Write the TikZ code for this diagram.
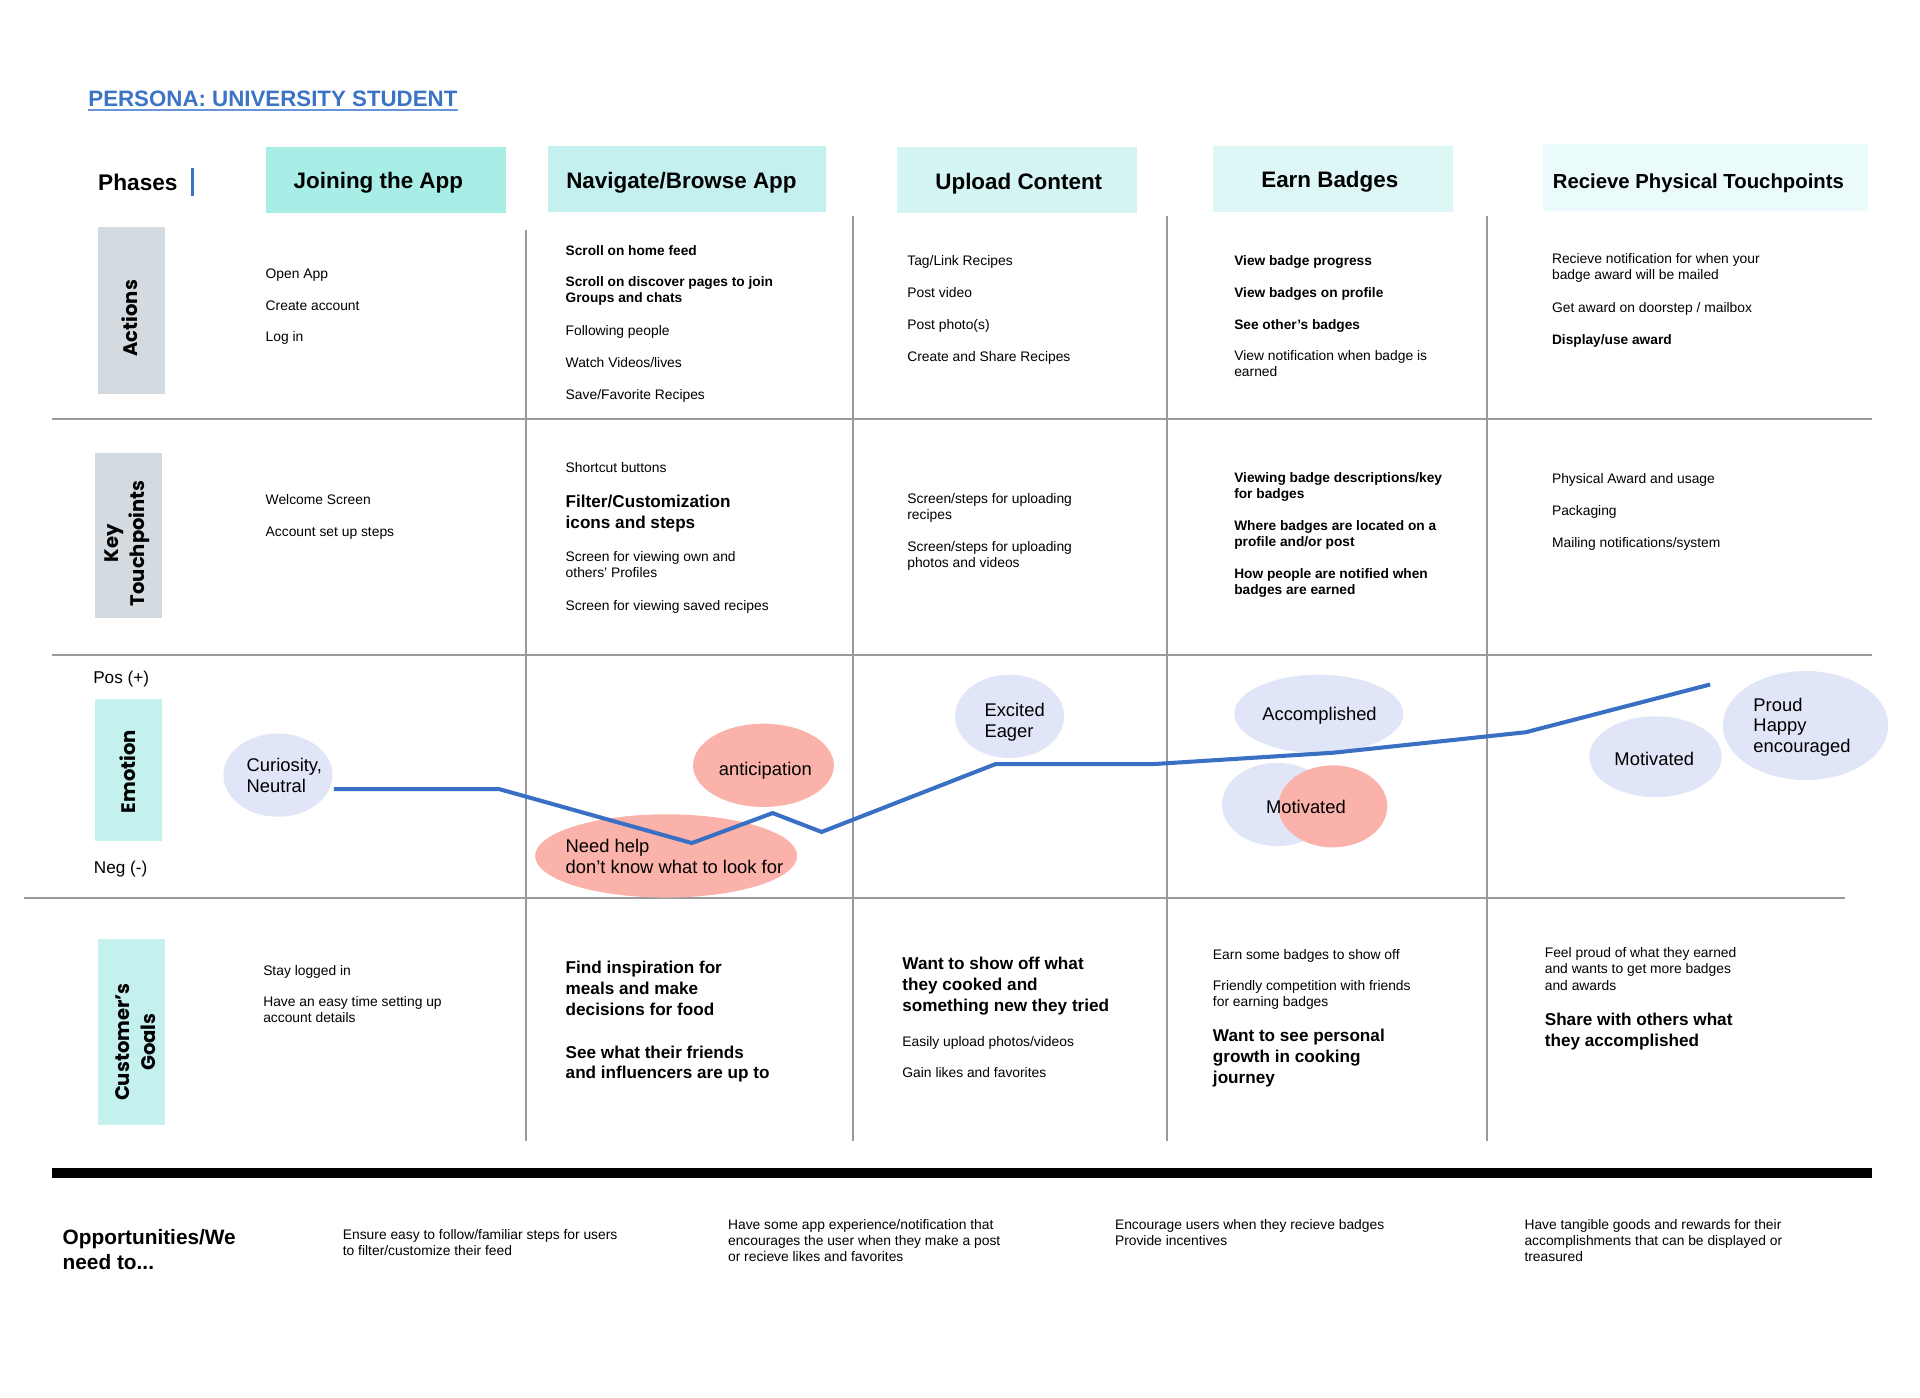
\documentclass[tikz,border=0pt]{standalone}
\usepackage{fontspec}
\setmainfont{Liberation Sans}
\newfontfamily\labfont{Poppins}
\usetikzlibrary{shapes.geometric}
\definecolor{hdA}{HTML}{A8EDE6}
\definecolor{hdB}{HTML}{C4F1EF}
\definecolor{hdC}{HTML}{D4F5F3}
\definecolor{hdD}{HTML}{DDF7F6}
\definecolor{hdE}{HTML}{EBFAFA}
\definecolor{lblgray}{HTML}{D3DBE0}
\definecolor{lblteal}{HTML}{C4F0EE}
\definecolor{lav}{HTML}{E1E5F8}
\definecolor{salmon}{HTML}{FBB2AA}
\definecolor{eline}{HTML}{3A70C4}
\definecolor{titleblue}{HTML}{3B73C5}
\definecolor{ulblue}{HTML}{6A95D8}
\definecolor{gridc}{HTML}{9A9A9A}
\begin{document}
\begin{tikzpicture}[x=1pt,y=-1pt,
  tx/.style={anchor=north west, inner sep=0pt, outer sep=0pt, align=left, yshift=4.9pt,
    font=\fontsize{11.3}{13.1}\selectfont, execute at begin node={\strut}},
  txb/.style={tx, font=\fontsize{11.2}{13.1}\selectfont\bfseries},
  big/.style={anchor=north west, inner sep=0pt, outer sep=0pt, align=left, yshift=6.9pt,
    font=\fontsize{14}{17}\selectfont\bfseries, execute at begin node={\strut}},
  emot/.style={anchor=north west, inner sep=0pt, outer sep=0pt, align=left, yshift=6.5pt,
    font=\fontsize{15}{17}\selectfont, execute at begin node={\strut}},
  emoc/.style={anchor=base, inner sep=0pt, outer sep=0pt, yshift=-5.4pt, font=\fontsize{15}{17}\selectfont},
  posneg/.style={anchor=base west, inner sep=0pt, yshift=-5pt, font=\fontsize{14}{16}\selectfont},
  phase/.style={rectangle, inner sep=0pt, minimum width=196pt, minimum height=54pt},
  phasetxt/.style={anchor=base, inner sep=0pt, font=\fontsize{18.3}{22}\selectfont\bfseries},
  rowbox/.style={rectangle, inner sep=0pt, minimum width=55pt},
  rowlbl/.style={rotate=90, inner sep=0pt, align=center, font=\labfont\fontsize{16}{21}\selectfont\bfseries},
  gridv/.style={draw=gridc, line width=1.6pt},
  bub/.style={ellipse, inner sep=0pt, draw=none}
]
\fill[white] (0,0) rectangle (1568,1141);
\useasboundingbox (0,0) rectangle (1568,1141);

% title
\node[anchor=base west, inner sep=0pt, text=titleblue, font=\fontsize{18.2}{22}\selectfont\bfseries] (title) at (72,86.6) {PERSONA: UNIVERSITY STUDENT};
\draw[ulblue, line width=1.3pt] ([yshift=-3pt]title.base west) -- ([yshift=-3pt]title.base east);

% phases
\node[anchor=base west, inner sep=0pt, font=\fontsize{18.5}{22}\selectfont\bfseries] (phases) at (80,155.7) {Phases};
\draw[titleblue, line width=2.5pt] (157.5,137) -- (157.5,160);

\node[phase, fill=hdA] (p1) at (315,147) {};
\node[phase, fill=hdB, minimum width=227pt] (p2) at (561,146) {};
\node[phase, fill=hdC] (p3) at (830.5,147) {};
\node[phase, fill=hdD] (p4) at (1088.5,146) {};
\node[phase, fill=hdE, minimum width=265pt] (p5) at (1393,145) {};
\node[phasetxt] (p1t) at (309,153.7) {Joining the App};
\node[phasetxt] (p2t) at (556.5,153.7) {Navigate/Browse App};
\node[phasetxt] (p3t) at (832,155) {Upload Content};
\node[phasetxt] (p4t) at (1086,153) {Earn Badges};
\node[phasetxt, font=\fontsize{16.6}{20}\selectfont\bfseries] (p5t) at (1387,154.2) {Recieve Physical Touchpoints};

% grid
\draw[gridv] (42.5,342) -- (1529,342);
\draw[gridv] (42.5,535) -- (1529,535);
\draw[gridv] (20,733) -- (1507,733);
\draw[gridv] (429.6,188) -- (429.6,932);
\draw[gridv] (696.6,176) -- (696.6,932);
\draw[gridv] (953,176) -- (953,932);
\draw[gridv] (1214,176) -- (1214,932);
\fill[black] (42.5,954) rectangle (1529,962);

% row labels
\node[rowbox, fill=lblgray, minimum height=136pt] (rA) at (107.5,253.5) {};
\node[rowlbl] (rAt) at (106,260) {Actions};
\node[rowbox, fill=lblgray, minimum height=135pt] (rK) at (105,437.5) {};
\node[rowlbl] (rKt) at (104,443.6) {Key\\Touchpoints};
\node[rowbox, fill=lblteal, minimum height=115.6pt] (rE) at (105,628.8) {};
\node[rowlbl] (rEt) at (104.3,630) {Emotion};
\node[rowbox, fill=lblteal, minimum height=152.2pt] (rG) at (107.5,842.9) {};
\node[rowlbl] (rGt) at (111,851) {Customer’s\\Goals};

% Actions
\node[tx] (a11) at (217,223.2) {Open App};
\node[tx] (a12) at (217,249) {Create account};
\node[tx] (a13) at (217,275) {Log in};
\node[txb] (a21) at (462,204) {Scroll on home feed};
\node[txb] (a22) at (462,230.6) {Scroll on discover pages to join\\Groups and chats};
\node[tx] (a23) at (462,270) {Following people};
\node[tx] (a24) at (462,295.9) {Watch Videos/lives};
\node[tx] (a25) at (462,322) {Save/Favorite Recipes};
\node[tx] (a31) at (741,212.6) {Tag/Link Recipes};
\node[tx] (a32) at (741,238.7) {Post video};
\node[tx] (a33) at (741,264.8) {Post photo(s)};
\node[tx] (a34) at (741,291) {Create and Share Recipes};
\node[txb] (a41) at (1008,212.6) {View badge progress};
\node[txb] (a42) at (1008,238.7) {View badges on profile};
\node[txb] (a43) at (1008,264.8) {See other’s badges};
\node[tx] (a44) at (1008,291) {View notification when badge is\\earned};
\node[tx] (a51) at (1267.5,211.5) {Recieve notification for when your\\badge award will be mailed};
\node[tx] (a52) at (1267.5,250.7) {Get award on doorstep / mailbox};
\node[txb] (a53) at (1267.5,277) {Display/use award};

% Key touchpoints
\node[tx] (k11) at (217,407.8) {Welcome Screen};
\node[tx] (k12) at (217,434.2) {Account set up steps};
\node[tx] (k21) at (462,381.6) {Shortcut buttons};
\node[big] (k22) at (462,411) {Filter/Customization\\icons and steps};
\node[tx] (k23) at (462,455) {Screen for viewing own and\\others’ Profiles};
\node[tx] (k24) at (462,494.3) {Screen for viewing saved recipes};
\node[tx] (k31) at (741,407.8) {Screen/steps for uploading\\recipes};
\node[tx] (k32) at (741,447) {Screen/steps for uploading\\photos and videos};
\node[txb] (k41) at (1008,390.6) {Viewing badge descriptions/key\\for badges};
\node[txb] (k42) at (1008,429.8) {Where badges are located on a\\profile and/or post};
\node[txb] (k43) at (1008,469) {How people are notified when\\badges are earned};
\node[tx] (k51) at (1267.5,390.6) {Physical Award and usage};
\node[tx] (k52) at (1267.5,416.8) {Packaging};
\node[tx] (k53) at (1267.5,442.9) {Mailing notifications/system};

% Emotion
\node[posneg] (pos) at (76,553) {Pos (+)};
\node[posneg] (neg) at (76.5,708) {Neg (-)};
\node[bub, fill=lav, minimum width=89pt, minimum height=68pt] (cur) at (227,633) {};
\node[bub, fill=salmon, minimum width=115pt, minimum height=68pt] (ant) at (623.5,625) {};
\node[bub, fill=salmon, minimum width=214pt, minimum height=68pt] (need) at (544,699) {};
\node[bub, fill=lav, minimum width=89pt, minimum height=68pt] (exc) at (824.5,585) {};
\node[bub, fill=lav, minimum width=138pt, minimum height=64pt] (acc) at (1077,583) {};
\node[bub, fill=lav, minimum width=90pt, minimum height=68pt] (motA) at (1043,657) {};
\node[bub, fill=salmon, minimum width=89pt, minimum height=67pt] (motB) at (1088.5,658.5) {};
\node[bub, fill=lav, minimum width=108pt, minimum height=66pt] (motC) at (1352,618) {};
\node[bub, fill=lav, minimum width=135pt, minimum height=89pt] (proud) at (1474.5,592.5) {};

\node[emot] (curt) at (201.5,626) {Curiosity,\\Neutral};
\node[emoc] (antt) at (625,628) {anticipation};
\node[emot] (needt) at (462,692) {Need help\\don’t know what to look for};
\node[emot] (exct) at (804,580.6) {Excited\\Eager};
\node[emoc] (acct) at (1077.6,583) {Accomplished};
\node[emoc] (motBt) at (1066.5,658.8) {Motivated};
\node[emoc] (motCt) at (1351,620) {Motivated};
\node[emot] (proudt) at (1432,576.3) {Proud\\Happy\\encouraged};

\coordinate (e1) at (272.6,644.4);
\coordinate (e2) at (407.6,644.4);
\coordinate (e3) at (565,688.5);
\coordinate (e4) at (631,664);
\coordinate (e5) at (671,679.4);
\coordinate (e6) at (813,624);
\coordinate (e7) at (941.6,624);
\coordinate (e8) at (1089,614.7);
\coordinate (e9) at (1246,598);
\coordinate (e10) at (1396.6,559);
\draw[eline, line width=3.3pt, line join=miter] (e1) -- (e2) -- (e3) -- (e4) -- (e5) -- (e6) -- (e7) -- (e8) -- (e9) -- (e10);

% Customer's goals
\node[tx] (g11) at (215,792) {Stay logged in};
\node[tx] (g12) at (215,818.8) {Have an easy time setting up\\account details};
\node[big] (g21) at (462,792) {Find inspiration for\\meals and make\\decisions for food};
\node[big] (g22) at (462,860.8) {See what their friends\\and influencers are up to};
\node[big] (g31) at (737,788.6) {Want to show off what\\they cooked and\\something new they tried};
\node[tx] (g32) at (737,850.4) {Easily upload photos/videos};
\node[tx] (g33) at (737,876) {Gain likes and favorites};
\node[tx] (g41) at (990.6,779) {Earn some badges to show off};
\node[tx] (g42) at (990.6,805.5) {Friendly competition with friends\\for earning badges};
\node[big] (g43) at (990.6,847.7) {Want to see personal\\growth in cooking\\journey};
\node[tx] (g51) at (1261.6,779) {Feel proud of what they earned\\and wants to get more badges\\and awards};
\node[big] (g52) at (1261.6,834.6) {Share with others what\\they accomplished};

% Opportunities
\node[anchor=north west, inner sep=0pt, align=left, yshift=8.25pt, font=\fontsize{17}{20.5}\selectfont\bfseries, execute at begin node={\strut}] (opp) at (51,1012) {Opportunities/We\\need to...};
\node[tx] (o1) at (280,1008.6) {Ensure easy to follow/familiar steps for users\\to filter/customize their feed};
\node[tx] (o2) at (594.6,1001) {Have some app experience/notification that\\encourages the user when they make a post\\or recieve likes and favorites};
\node[tx] (o3) at (910.6,1001) {Encourage users when they recieve badges\\Provide incentives};
\node[tx] (o4) at (1245,1001) {Have tangible goods and rewards for their\\accomplishments that can be displayed or\\treasured};
\end{tikzpicture}
\end{document}
